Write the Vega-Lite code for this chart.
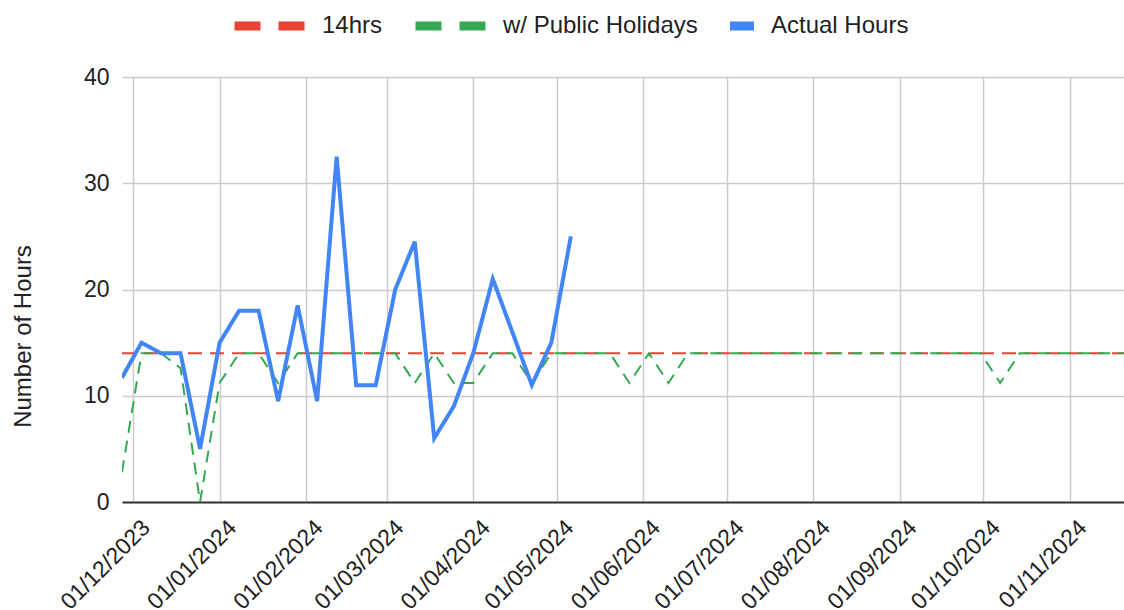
{
  "$schema": "https://vega.github.io/schema/vega-lite/v6.json",
  "autosize": {"type": "none"},
  "width": 1002,
  "height": 425,
  "padding": {"left": 122, "top": 77, "right": 0, "bottom": 108},
  "background": "white",
  "config": {
    "font": "Liberation Sans",
    "view": {"stroke": null},
    "axis": {"labelFont": "Liberation Sans", "titleFont": "Liberation Sans", "labelColor": "#222222", "titleColor": "#222222", "titleFontWeight": "normal"},
    "legend": {"labelFont": "Liberation Sans"}
  },
  "datasets": {
    "rows": [
      {"date": "2023-11-27", "series": "14hrs", "hours": 14},
      {"date": "2023-12-04", "series": "14hrs", "hours": 14},
      {"date": "2023-12-11", "series": "14hrs", "hours": 14},
      {"date": "2023-12-18", "series": "14hrs", "hours": 14},
      {"date": "2023-12-25", "series": "14hrs", "hours": 14},
      {"date": "2024-01-01", "series": "14hrs", "hours": 14},
      {"date": "2024-01-08", "series": "14hrs", "hours": 14},
      {"date": "2024-01-15", "series": "14hrs", "hours": 14},
      {"date": "2024-01-22", "series": "14hrs", "hours": 14},
      {"date": "2024-01-29", "series": "14hrs", "hours": 14},
      {"date": "2024-02-05", "series": "14hrs", "hours": 14},
      {"date": "2024-02-12", "series": "14hrs", "hours": 14},
      {"date": "2024-02-19", "series": "14hrs", "hours": 14},
      {"date": "2024-02-26", "series": "14hrs", "hours": 14},
      {"date": "2024-03-04", "series": "14hrs", "hours": 14},
      {"date": "2024-03-11", "series": "14hrs", "hours": 14},
      {"date": "2024-03-18", "series": "14hrs", "hours": 14},
      {"date": "2024-03-25", "series": "14hrs", "hours": 14},
      {"date": "2024-04-01", "series": "14hrs", "hours": 14},
      {"date": "2024-04-08", "series": "14hrs", "hours": 14},
      {"date": "2024-04-15", "series": "14hrs", "hours": 14},
      {"date": "2024-04-22", "series": "14hrs", "hours": 14},
      {"date": "2024-04-29", "series": "14hrs", "hours": 14},
      {"date": "2024-05-06", "series": "14hrs", "hours": 14},
      {"date": "2024-05-13", "series": "14hrs", "hours": 14},
      {"date": "2024-05-20", "series": "14hrs", "hours": 14},
      {"date": "2024-05-27", "series": "14hrs", "hours": 14},
      {"date": "2024-06-03", "series": "14hrs", "hours": 14},
      {"date": "2024-06-10", "series": "14hrs", "hours": 14},
      {"date": "2024-06-17", "series": "14hrs", "hours": 14},
      {"date": "2024-06-24", "series": "14hrs", "hours": 14},
      {"date": "2024-07-01", "series": "14hrs", "hours": 14},
      {"date": "2024-07-08", "series": "14hrs", "hours": 14},
      {"date": "2024-07-15", "series": "14hrs", "hours": 14},
      {"date": "2024-07-22", "series": "14hrs", "hours": 14},
      {"date": "2024-07-29", "series": "14hrs", "hours": 14},
      {"date": "2024-08-05", "series": "14hrs", "hours": 14},
      {"date": "2024-08-12", "series": "14hrs", "hours": 14},
      {"date": "2024-08-19", "series": "14hrs", "hours": 14},
      {"date": "2024-08-26", "series": "14hrs", "hours": 14},
      {"date": "2024-09-02", "series": "14hrs", "hours": 14},
      {"date": "2024-09-09", "series": "14hrs", "hours": 14},
      {"date": "2024-09-16", "series": "14hrs", "hours": 14},
      {"date": "2024-09-23", "series": "14hrs", "hours": 14},
      {"date": "2024-09-30", "series": "14hrs", "hours": 14},
      {"date": "2024-10-07", "series": "14hrs", "hours": 14},
      {"date": "2024-10-14", "series": "14hrs", "hours": 14},
      {"date": "2024-10-21", "series": "14hrs", "hours": 14},
      {"date": "2024-10-28", "series": "14hrs", "hours": 14},
      {"date": "2024-11-04", "series": "14hrs", "hours": 14},
      {"date": "2024-11-11", "series": "14hrs", "hours": 14},
      {"date": "2024-11-18", "series": "14hrs", "hours": 14},
      {"date": "2024-11-25", "series": "14hrs", "hours": 14},
      {"date": "2023-11-27", "series": "w/ Public Holidays", "hours": 2.8},
      {"date": "2023-12-04", "series": "w/ Public Holidays", "hours": 14},
      {"date": "2023-12-11", "series": "w/ Public Holidays", "hours": 14},
      {"date": "2023-12-18", "series": "w/ Public Holidays", "hours": 12.6},
      {"date": "2023-12-25", "series": "w/ Public Holidays", "hours": 0},
      {"date": "2024-01-01", "series": "w/ Public Holidays", "hours": 11.2},
      {"date": "2024-01-08", "series": "w/ Public Holidays", "hours": 14},
      {"date": "2024-01-15", "series": "w/ Public Holidays", "hours": 14},
      {"date": "2024-01-22", "series": "w/ Public Holidays", "hours": 11.2},
      {"date": "2024-01-29", "series": "w/ Public Holidays", "hours": 14},
      {"date": "2024-02-05", "series": "w/ Public Holidays", "hours": 14},
      {"date": "2024-02-12", "series": "w/ Public Holidays", "hours": 14},
      {"date": "2024-02-19", "series": "w/ Public Holidays", "hours": 14},
      {"date": "2024-02-26", "series": "w/ Public Holidays", "hours": 14},
      {"date": "2024-03-04", "series": "w/ Public Holidays", "hours": 14},
      {"date": "2024-03-11", "series": "w/ Public Holidays", "hours": 11.2},
      {"date": "2024-03-18", "series": "w/ Public Holidays", "hours": 14},
      {"date": "2024-03-25", "series": "w/ Public Holidays", "hours": 11.2},
      {"date": "2024-04-01", "series": "w/ Public Holidays", "hours": 11.2},
      {"date": "2024-04-08", "series": "w/ Public Holidays", "hours": 14},
      {"date": "2024-04-15", "series": "w/ Public Holidays", "hours": 14},
      {"date": "2024-04-22", "series": "w/ Public Holidays", "hours": 11.2},
      {"date": "2024-04-29", "series": "w/ Public Holidays", "hours": 14},
      {"date": "2024-05-06", "series": "w/ Public Holidays", "hours": 14},
      {"date": "2024-05-13", "series": "w/ Public Holidays", "hours": 14},
      {"date": "2024-05-20", "series": "w/ Public Holidays", "hours": 14},
      {"date": "2024-05-27", "series": "w/ Public Holidays", "hours": 11.2},
      {"date": "2024-06-03", "series": "w/ Public Holidays", "hours": 14},
      {"date": "2024-06-10", "series": "w/ Public Holidays", "hours": 11.2},
      {"date": "2024-06-17", "series": "w/ Public Holidays", "hours": 14},
      {"date": "2024-06-24", "series": "w/ Public Holidays", "hours": 14},
      {"date": "2024-07-01", "series": "w/ Public Holidays", "hours": 14},
      {"date": "2024-07-08", "series": "w/ Public Holidays", "hours": 14},
      {"date": "2024-07-15", "series": "w/ Public Holidays", "hours": 14},
      {"date": "2024-07-22", "series": "w/ Public Holidays", "hours": 14},
      {"date": "2024-07-29", "series": "w/ Public Holidays", "hours": 14},
      {"date": "2024-08-05", "series": "w/ Public Holidays", "hours": 14},
      {"date": "2024-08-12", "series": "w/ Public Holidays", "hours": 14},
      {"date": "2024-08-19", "series": "w/ Public Holidays", "hours": 14},
      {"date": "2024-08-26", "series": "w/ Public Holidays", "hours": 14},
      {"date": "2024-09-02", "series": "w/ Public Holidays", "hours": 14},
      {"date": "2024-09-09", "series": "w/ Public Holidays", "hours": 14},
      {"date": "2024-09-16", "series": "w/ Public Holidays", "hours": 14},
      {"date": "2024-09-23", "series": "w/ Public Holidays", "hours": 14},
      {"date": "2024-09-30", "series": "w/ Public Holidays", "hours": 14},
      {"date": "2024-10-07", "series": "w/ Public Holidays", "hours": 11.2},
      {"date": "2024-10-14", "series": "w/ Public Holidays", "hours": 14},
      {"date": "2024-10-21", "series": "w/ Public Holidays", "hours": 14},
      {"date": "2024-10-28", "series": "w/ Public Holidays", "hours": 14},
      {"date": "2024-11-04", "series": "w/ Public Holidays", "hours": 14},
      {"date": "2024-11-11", "series": "w/ Public Holidays", "hours": 14},
      {"date": "2024-11-18", "series": "w/ Public Holidays", "hours": 14},
      {"date": "2024-11-25", "series": "w/ Public Holidays", "hours": 14},
      {"date": "2023-11-27", "series": "Actual Hours", "hours": 11.7},
      {"date": "2023-12-04", "series": "Actual Hours", "hours": 15},
      {"date": "2023-12-11", "series": "Actual Hours", "hours": 14},
      {"date": "2023-12-18", "series": "Actual Hours", "hours": 14},
      {"date": "2023-12-25", "series": "Actual Hours", "hours": 5},
      {"date": "2024-01-01", "series": "Actual Hours", "hours": 15},
      {"date": "2024-01-08", "series": "Actual Hours", "hours": 18},
      {"date": "2024-01-15", "series": "Actual Hours", "hours": 18},
      {"date": "2024-01-22", "series": "Actual Hours", "hours": 9.5},
      {"date": "2024-01-29", "series": "Actual Hours", "hours": 18.5},
      {"date": "2024-02-05", "series": "Actual Hours", "hours": 9.5},
      {"date": "2024-02-12", "series": "Actual Hours", "hours": 32.5},
      {"date": "2024-02-19", "series": "Actual Hours", "hours": 11},
      {"date": "2024-02-26", "series": "Actual Hours", "hours": 11},
      {"date": "2024-03-04", "series": "Actual Hours", "hours": 20},
      {"date": "2024-03-11", "series": "Actual Hours", "hours": 24.5},
      {"date": "2024-03-18", "series": "Actual Hours", "hours": 6},
      {"date": "2024-03-25", "series": "Actual Hours", "hours": 9},
      {"date": "2024-04-01", "series": "Actual Hours", "hours": 14},
      {"date": "2024-04-08", "series": "Actual Hours", "hours": 21},
      {"date": "2024-04-15", "series": "Actual Hours", "hours": 16},
      {"date": "2024-04-22", "series": "Actual Hours", "hours": 11},
      {"date": "2024-04-29", "series": "Actual Hours", "hours": 15},
      {"date": "2024-05-06", "series": "Actual Hours", "hours": 25}
    ]
  },
  "data": {"name": "rows"},
  "encoding": {
    "x": {
      "field": "date",
      "type": "temporal",
      "scale": {"type": "utc", "domain": [{"year": 2023, "month": 11, "date": 27, "utc": true}, {"year": 2024, "month": 11, "date": 20, "hours": 10, "utc": true}]},
      "axis": {
        "title": null,
        "format": "%d/%m/%Y",
        "tickCount": {"interval": "month", "step": 1},
        "labelAngle": -45,
        "labelAlign": "right",
        "labelBaseline": "top",
        "labelPadding": 14,
        "labelOffset": 5,
        "labelFontSize": 23,
        "labelFlush": false,
        "labelOverlap": false,
        "labelBound": false,
        "ticks": false,
        "grid": true,
        "gridColor": "#cccccc",
        "gridWidth": 1.5,
        "domainColor": "#333333",
        "domainWidth": 2
      }
    },
    "y": {
      "field": "hours",
      "type": "quantitative",
      "scale": {"domain": [0, 40], "nice": false, "zero": true},
      "axis": {
        "title": "Number of Hours",
        "titleFontSize": 24,
        "titleX": -92,
        "titleY": 259,
        "titleAngle": -90,
        "titleAlign": "center",
        "titleBaseline": "alphabetic",
        "values": [0, 10, 20, 30, 40],
        "labelFontSize": 23,
        "labelPadding": 13,
        "ticks": false,
        "domain": false,
        "grid": true,
        "gridColor": "#cccccc",
        "gridWidth": 1.5
      }
    },
    "color": {
      "field": "series",
      "type": "nominal",
      "scale": {"domain": ["14hrs", "w/ Public Holidays", "Actual Hours"], "range": ["#ea4335", "#34a853", "#4285f4"]},
      "legend": {
        "title": null,
        "orient": "none",
        "direction": "horizontal",
        "legendX": 108,
        "legendY": -91,
        "symbolType": "stroke",
        "symbolStrokeWidth": 9,
        "symbolSize": 5041,
        "labelFontSize": 24,
        "labelColor": "#222222",
        "labelLimit": 400,
        "labelOffset": 15,
        "columnPadding": 14,
        "padding": 0,
        "encode": {
          "symbols": {
            "update": {
              "strokeDash": {"signal": "datum.value === 'Actual Hours' ? [1, 0] : [26, 18]"},
              "size": {"signal": "datum.value === 'Actual Hours' ? 576 : 5041"},
              "x": {"signal": "datum.value === 'Actual Hours' ? 30 : 40"}
            }
          },
          "labels": {
            "update": {
              "x": {"signal": "datum.value === 'Actual Hours' ? 59 : 92"}
            }
          }
        }
      }
    }
  },
  "layer": [
    {
      "transform": [{"filter": "datum.series === '14hrs'"}],
      "mark": {"type": "line", "strokeWidth": 2, "strokeDash": [14, 8], "clip": true}
    },
    {
      "transform": [{"filter": "datum.series === 'w/ Public Holidays'"}],
      "mark": {"type": "line", "strokeWidth": 2, "strokeDash": [12, 8], "clip": true}
    },
    {
      "transform": [{"filter": "datum.series === 'Actual Hours'"}],
      "mark": {"type": "line", "strokeWidth": 4, "clip": true}
    }
  ]
}
